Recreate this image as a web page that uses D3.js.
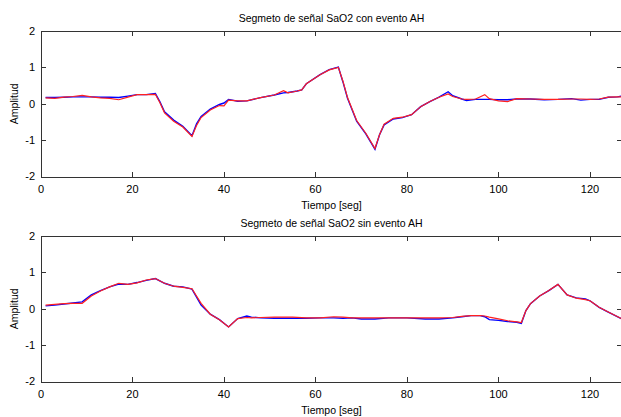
<!DOCTYPE html>
<html>
<head>
<meta charset="utf-8">
<script src="https://cdn.jsdelivr.net/npm/d3@7"></script>
<style>
  body { margin: 0; background: #fff; }
  svg { display: block; font-family: "Liberation Sans", Arial, sans-serif; }
</style>
</head>
<body>
<svg id="chart" width="621" height="417"></svg>
<script>
// --- data ---
var titles = ["Segmeto de señal SaO2 con evento AH", "Segmeto de señal SaO2 sin evento AH"];
var xTicks = [0, 20, 40, 60, 80, 100, 120];
var yTicks = [-2, -1, 0, 1, 2];

// segment with AH event
var tEvent = [1, 3, 5, 7, 9, 11, 13, 15, 17, 19, 21, 23, 25, 26, 27, 29, 31, 33, 34, 35, 37, 39, 40, 41, 43, 45, 48, 51, 53, 54, 56, 57, 58, 61, 63, 65, 66, 67, 69, 71, 73, 74, 75, 77, 79, 81, 83, 85, 87, 89, 90, 92, 93, 95, 97, 98, 100, 102, 104, 107, 110, 113, 116, 118, 120, 122, 124, 126, 127];
var blueEvent = [0.17, 0.17, 0.18, 0.19, 0.19, 0.19, 0.18, 0.18, 0.17, 0.21, 0.25, 0.25, 0.28, 0.05, -0.22, -0.45, -0.62, -0.88, -0.55, -0.35, -0.15, -0.02, 0.02, 0.12, 0.07, 0.08, 0.17, 0.24, 0.3, 0.31, 0.35, 0.38, 0.55, 0.8, 0.94, 1.01, 0.6, 0.15, -0.48, -0.83, -1.25, -0.85, -0.58, -0.42, -0.38, -0.3, -0.08, 0.06, 0.18, 0.33, 0.22, 0.13, 0.09, 0.12, 0.12, 0.12, 0.11, 0.11, 0.13, 0.13, 0.11, 0.12, 0.14, 0.1, 0.12, 0.12, 0.18, 0.19, 0.21];
var redEvent = [0.16, 0.15, 0.18, 0.2, 0.23, 0.19, 0.16, 0.15, 0.11, 0.18, 0.25, 0.25, 0.26, 0.03, -0.25, -0.48, -0.64, -0.9, -0.6, -0.38, -0.17, -0.05, -0.06, 0.1, 0.08, 0.08, 0.17, 0.24, 0.36, 0.3, 0.35, 0.38, 0.55, 0.8, 0.93, 1.0, 0.62, 0.17, -0.46, -0.81, -1.23, -0.85, -0.56, -0.4, -0.37, -0.3, -0.08, 0.06, 0.18, 0.27, 0.2, 0.13, 0.12, 0.13, 0.25, 0.14, 0.08, 0.06, 0.14, 0.13, 0.12, 0.12, 0.13, 0.13, 0.12, 0.13, 0.18, 0.19, 0.19];

// segment without AH event
var tNoEvent = [1, 3, 5, 7, 9, 11, 13, 15, 17, 19, 21, 23, 25, 27, 29, 31, 33, 35, 37, 39, 41, 43, 45, 46, 48, 51, 55, 58, 61, 64, 66, 68, 70, 73, 76, 80, 84, 87, 90, 92, 94, 96, 97, 98, 100, 102, 104, 105, 106, 107, 109, 111, 113, 115, 117, 119, 120, 122, 124, 127];
var blueNoEvent = [0.08, 0.1, 0.13, 0.16, 0.19, 0.38, 0.5, 0.6, 0.68, 0.67, 0.72, 0.78, 0.83, 0.7, 0.62, 0.6, 0.54, 0.1, -0.15, -0.3, -0.5, -0.27, -0.2, -0.23, -0.25, -0.26, -0.26, -0.26, -0.25, -0.25, -0.26, -0.25, -0.28, -0.28, -0.25, -0.25, -0.28, -0.28, -0.25, -0.22, -0.19, -0.19, -0.22, -0.3, -0.32, -0.35, -0.37, -0.4, -0.05, 0.14, 0.35, 0.5, 0.67, 0.38, 0.3, 0.27, 0.22, 0.04, -0.09, -0.28];
var redNoEvent = [0.1, 0.12, 0.14, 0.15, 0.15, 0.35, 0.49, 0.6, 0.7, 0.67, 0.71, 0.79, 0.83, 0.7, 0.62, 0.59, 0.55, 0.15, -0.15, -0.3, -0.5, -0.27, -0.24, -0.25, -0.24, -0.23, -0.23, -0.25, -0.25, -0.22, -0.23, -0.25, -0.25, -0.25, -0.25, -0.25, -0.25, -0.25, -0.24, -0.21, -0.19, -0.19, -0.2, -0.23, -0.28, -0.33, -0.36, -0.38, -0.05, 0.14, 0.35, 0.5, 0.67, 0.38, 0.29, 0.25, 0.22, 0.04, -0.09, -0.28];

var panels = [
  {title: titles[0], t: tEvent, blue: blueEvent, red: redEvent, top: 31, bottom: 176.5},
  {title: titles[1], t: tNoEvent, blue: blueNoEvent, red: redNoEvent, top: 236, bottom: 381.5}
];

var svg = d3.select("#chart"),
    left = 41,
    right = 622;

var x = d3.scaleLinear().domain([0, 127]).range([left, right]);

panels.forEach(function (p) {
  var y = d3.scaleLinear().domain([-2, 2]).range([p.bottom, p.top]);
  var g = svg.append("g");

  // frame
  g.append("rect")
      .attr("x", left + 0.5)
      .attr("y", Math.round(p.top) + 0.5)
      .attr("width", right - left)
      .attr("height", Math.round(p.bottom) - Math.round(p.top))
      .attr("fill", "none")
      .attr("stroke", "#333")
      .attr("stroke-width", 1);

  // inward ticks on all sides
  xTicks.forEach(function (v) {
    var px = Math.round(x(v)) + 0.5;
    g.append("line").attr("x1", px).attr("x2", px)
        .attr("y1", Math.round(p.bottom)).attr("y2", Math.round(p.bottom) - 5)
        .attr("stroke", "#333");
    g.append("line").attr("x1", px).attr("x2", px)
        .attr("y1", Math.round(p.top)).attr("y2", Math.round(p.top) + 5)
        .attr("stroke", "#333");
    g.append("text")
        .attr("x", x(v))
        .attr("y", p.bottom + 16)
        .attr("text-anchor", "middle")
        .attr("font-size", "11px")
        .attr("fill", "#000")
        .text(v);
  });
  yTicks.forEach(function (v) {
    var py = Math.round(y(v)) + 0.5;
    g.append("line").attr("x1", left).attr("x2", left + 5)
        .attr("y1", py).attr("y2", py).attr("stroke", "#333");
    g.append("line").attr("x1", right).attr("x2", right - 5)
        .attr("y1", py).attr("y2", py).attr("stroke", "#333");
    g.append("text")
        .attr("x", left - 6)
        .attr("y", y(v))
        .attr("dy", "0.35em")
        .attr("text-anchor", "end")
        .attr("font-size", "11px")
        .attr("fill", "#000")
        .text(v);
  });

  // title and axis labels
  g.append("text")
      .attr("x", (left + right) / 2)
      .attr("y", p.top - 9)
      .attr("text-anchor", "middle")
      .attr("font-size", "10.5px")
      .text(p.title);
  g.append("text")
      .attr("x", (left + right) / 2)
      .attr("y", p.bottom + 32)
      .attr("text-anchor", "middle")
      .attr("font-size", "10.5px")
      .text("Tiempo [seg]");
  g.append("text")
      .attr("transform", "translate(18," + y(0) + ") rotate(-90)")
      .attr("text-anchor", "middle")
      .attr("font-size", "10.5px")
      .text("Amplitud");

  var line = function (vals) {
    return d3.line()
        .x(function (d, i) { return x(p.t[i]); })
        .y(function (d) { return y(d); })(vals);
  };

  g.append("path")
      .attr("d", line(p.blue))
      .attr("fill", "none")
      .attr("stroke", "#0000ff")
      .attr("stroke-width", 1.4);
  g.append("path")
      .attr("d", line(p.red))
      .attr("fill", "none")
      .attr("stroke", "#ff2020")
      .attr("stroke-width", 1.2);
});
</script>
</body>
</html>
